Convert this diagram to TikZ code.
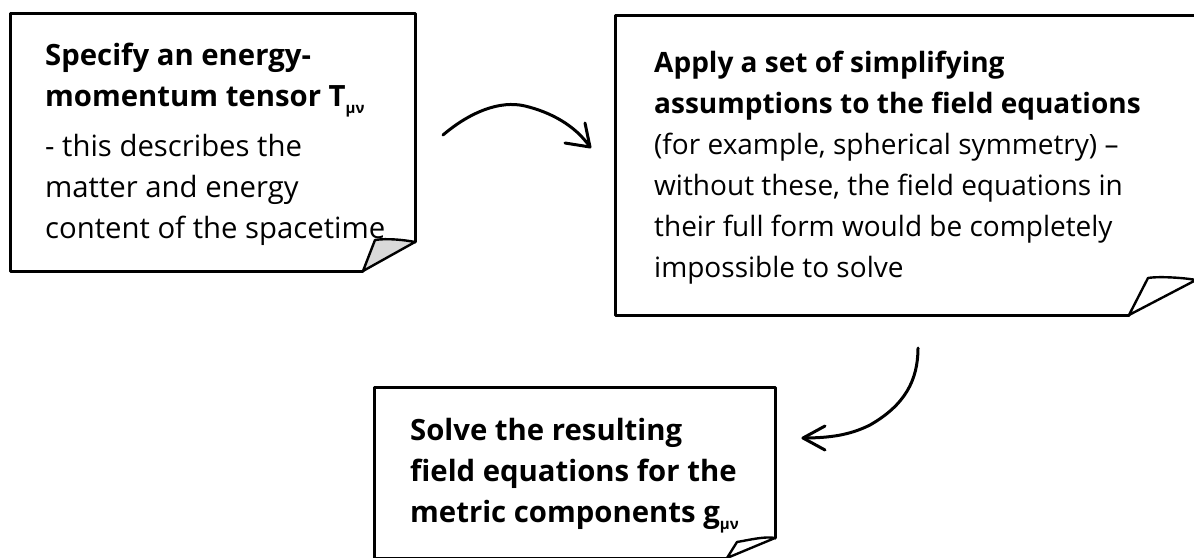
\documentclass[tikz,border=0pt]{standalone}
\usepackage{fontspec}
\setmainfont{Open Sans}
\usetikzlibrary{calc}

% sticky-note outline with a curled lower-right corner
% #1 node name, #2 flap height, #3 flap width, #4 inner flap point (relative to south east), #5 flap fill
\newcommand{\curlednote}[5]{%
  \draw[noteline]
    ($(#1.south east)+(0,-#2)$) -- (#1.north east) -- (#1.north west)
    -- (#1.south west) -- ($(#1.south east)+(-#3,0)$);
  \draw[flapline, fill=#5]
    ($(#1.south east)+(0,-#2)$)
    .. controls ($(#1.south east)+(-10,-#2-2)$) and ($(#1.south east)+#4+(12,-2)$) .. ($(#1.south east)+#4$)
    -- ($(#1.south east)+(-#3,0)$) -- cycle;
}

\begin{document}
\begin{tikzpicture}[x=1pt,y=-1pt,
  notearea/.style={rectangle, draw=none, inner sep=0pt, outer sep=0pt, anchor=north west},
  noteline/.style={line width=3pt, line join=round, line cap=round},
  flapline/.style={line width=2.4pt, line join=round},
  notetext/.style={anchor=base west, inner sep=0pt, font=\fontsize{28}{41}\selectfont},
  largetext/.style={notetext, font=\fontsize{29.3}{41}\selectfont},
  sketch/.style={line width=3pt, line cap=round, line join=round}]
\useasboundingbox (0,0) rectangle (1194,557);
\definecolor{flapgray}{HTML}{D9D9D9}

% note areas
\node[notearea, minimum width=405pt, minimum height=258pt] (n1) at (10,13) {};
\node[notearea, minimum width=581pt, minimum height=300pt] (n2) at (615,15) {};
\node[notearea, minimum width=401pt, minimum height=171pt] (n3) at (374,387) {};

\curlednote{n1}{29}{52}{(-40,-31)}{flapgray}
\curlednote{n2}{35}{67}{(-48,-37)}{white}
\curlednote{n3}{20}{48}{(-38,-16)}{white}

% texts
\node[largetext] (t1) at (45,65) {\parbox[t]{380pt}{\raggedright
  \textbf{Specify an energy-}\\
  \textbf{momentum tensor T\raisebox{-0.45ex}{\fontsize{15}{15}\selectfont μν}}\\[9pt]
  - this describes the\\
  matter and energy\\
  content of the spacetime}};

\node[notetext] (t2) at (654,72) {\parbox[t]{540pt}{\raggedright
  \textbf{Apply a set of simplifying}\\
  \textbf{assumptions to the field equations}\\
  (for example, spherical symmetry) –\\
  without these, the field equations in\\
  their full form would be completely\\
  impossible to solve}};

\node[largetext] (t3) at (410,440) {\parbox[t]{380pt}{\raggedright
  \textbf{Solve the resulting}\\
  \textbf{field equations for the}\\
  \textbf{metric components g\raisebox{-0.45ex}{\fontsize{15}{15}\selectfont μν}}}};

% hand-drawn connectors
\coordinate (a1s) at (443,135);
\coordinate (a1e) at (590,147);
\coordinate (a2s) at (918,348);
\coordinate (a2e) at (803,438);

\draw[sketch] (a1s) .. controls (470,112) and (500,100) .. (525,106)
  .. controls (550,112) and (575,125) .. (a1e);
\draw[sketch] ($(a1e)+(-25,-4)$) -- (a1e) -- ($(a1e)+(-5,-24)$);

\draw[sketch] (a2s) .. controls (918,380) and (905,405) .. (870,425)
  .. controls (850,435) and (830,438) .. (a2e);
\draw[sketch] ($(a2e)+(22,-12)$) -- (a2e) -- ($(a2e)+(22,12)$);
\end{tikzpicture}
\end{document}
